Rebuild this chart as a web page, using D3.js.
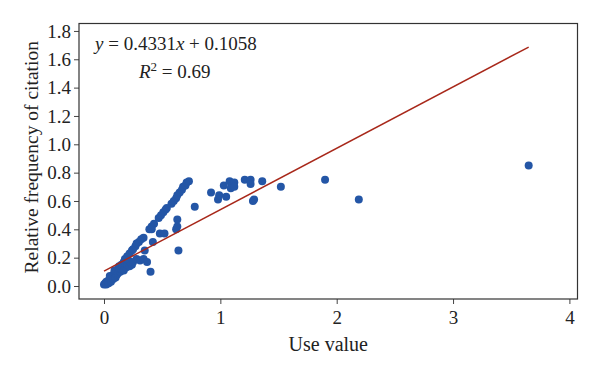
<!DOCTYPE html>
<html>
<head>
<meta charset="utf-8">
<script src="https://cdn.jsdelivr.net/npm/d3@7"></script>
<style>
  body { margin: 0; background: #fff; }
  text { font-family: "Liberation Serif", "DejaVu Serif", serif; fill: #222; }
</style>
</head>
<body>
<div id="chart"></div>
<script>
// Use value (x) and relative frequency of citation (y)
const useValue = [
  0.00, 0.01, 0.02, 0.03, 0.04, 0.05, 0.06, 0.07, 0.08, 0.09, 0.10, 0.12, 0.13, 0.15, 0.17,
  0.18, 0.20, 0.22, 0.24, 0.25, 0.27, 0.28, 0.30, 0.32, 0.34, 0.39, 0.41, 0.43, 0.47, 0.49,
  0.51, 0.53, 0.54, 0.58, 0.60, 0.62, 0.63, 0.65, 0.67, 0.68, 0.70, 0.71, 0.73,
  0.02, 0.04, 0.06, 0.05, 0.08, 0.10, 0.11, 0.09, 0.12, 0.14, 0.13, 0.15, 0.16, 0.17, 0.19,
  0.18, 0.20, 0.21, 0.22, 0.24, 0.25, 0.28, 0.31, 0.34, 0.37, 0.40, 0.35, 0.42, 0.41, 0.48,
  0.52, 0.62, 0.63, 0.63, 0.64, 0.78,
  0.92, 0.98, 0.99, 1.03, 1.05, 1.08, 1.09, 1.10, 1.12, 1.12, 1.21, 1.26, 1.26, 1.28, 1.29,
  1.36, 1.52, 1.90, 2.19, 3.65
];
const citationFreq = [
  0.01, 0.02, 0.03, 0.02, 0.04, 0.05, 0.06, 0.07, 0.08, 0.09, 0.11, 0.12, 0.14, 0.15, 0.17,
  0.19, 0.21, 0.23, 0.25, 0.26, 0.28, 0.30, 0.31, 0.33, 0.34, 0.40, 0.42, 0.44, 0.48, 0.50,
  0.52, 0.54, 0.55, 0.58, 0.60, 0.62, 0.64, 0.66, 0.68, 0.70, 0.71, 0.73, 0.74,
  0.01, 0.02, 0.03, 0.07, 0.05, 0.06, 0.08, 0.11, 0.09, 0.10, 0.12, 0.12, 0.14, 0.11, 0.13,
  0.16, 0.15, 0.18, 0.14, 0.15, 0.17, 0.19, 0.18, 0.19, 0.17, 0.10, 0.25, 0.31, 0.40, 0.37,
  0.37, 0.40, 0.42, 0.47, 0.25, 0.56,
  0.66, 0.61, 0.64, 0.71, 0.63, 0.74, 0.69, 0.71, 0.73, 0.70, 0.75, 0.75, 0.72, 0.60, 0.61,
  0.74, 0.70, 0.75, 0.61, 0.85
];

// fitted trend line
const slope = 0.4331;
const intercept = 0.1058;
const fitRange = [0, 3.65];

const xTicks = [0, 1, 2, 3, 4];
const yTicks = [0, 0.2, 0.4, 0.6, 0.8, 1.0, 1.2, 1.4, 1.6, 1.8];

const margin = { top: 23.5, right: 22.5, bottom: 71, left: 79 };
const width = 600 - margin.left - margin.right;
const height = 370 - margin.top - margin.bottom;

const svg = d3.select("#chart").append("svg")
    .attr("width", 600)
    .attr("height", 370)
  .append("g")
    .attr("transform", `translate(${margin.left},${margin.top})`);

const x = d3.scaleLinear().domain([-0.2148, 4.0696]).range([0, width]);
const y = d3.scaleLinear().domain([-0.0917, 1.8525]).range([height, 0]);

// x axis
const gx = svg.append("g")
    .attr("transform", `translate(0,${height})`)
    .call(d3.axisBottom(x).tickValues(xTicks).tickFormat(d3.format("d")).tickSize(5).tickSizeOuter(0));

// y axis
const gy = svg.append("g")
    .call(d3.axisLeft(y).tickValues(yTicks).tickFormat(d3.format(".1f")).tickSize(5).tickSizeOuter(0));

[gx, gy].forEach(g => {
  g.select(".domain").remove();
  g.selectAll("line").attr("stroke", "#444");
  g.selectAll("text")
      .style("font-family", "'Liberation Serif', serif")
      .style("font-size", "19px")
      .attr("fill", "#222");
});
gx.selectAll("text").attr("dy", "0.95em").attr("y", 7);
gy.selectAll("text").attr("x", -8);

// frame
svg.append("rect")
    .attr("width", width)
    .attr("height", height)
    .attr("fill", "none")
    .attr("stroke", "#333")
    .attr("stroke-width", 1.2);

// points
const points = useValue.map((v, i) => ({ u: v, f: citationFreq[i] }));
svg.selectAll(".dot")
    .data(points)
  .enter().append("circle")
    .attr("class", "dot")
    .attr("r", 4)
    .attr("cx", d => x(d.u))
    .attr("cy", d => y(d.f))
    .attr("fill", "#2456a6");

// regression line
const line = d3.line()
    .x(d => x(d))
    .y(d => y(slope * d + intercept));

svg.append("path")
    .datum(fitRange)
    .attr("d", line)
    .attr("fill", "none")
    .attr("stroke", "#a8281a")
    .attr("stroke-width", 1.4);

// equation
const eq = svg.append("text")
    .attr("x", 16)
    .attr("y", 26)
    .style("font-size", "19px");
eq.append("tspan").style("font-style", "italic").text("y");
eq.append("tspan").text(" = 0.4331");
eq.append("tspan").style("font-style", "italic").text("x");
eq.append("tspan").text(" + 0.1058");

const r2 = svg.append("text")
    .attr("x", 60)
    .attr("y", 54)
    .style("font-size", "19px");
r2.append("tspan").style("font-style", "italic").text("R");
r2.append("tspan").attr("dy", -7).style("font-size", "13px").text("2");
r2.append("tspan").attr("dy", 7).text(" = 0.69");

// axis labels
svg.append("text")
    .attr("x", width / 2)
    .attr("y", height + 52)
    .style("text-anchor", "middle")
    .style("font-size", "20px")
    .text("Use value");

svg.append("text")
    .attr("transform", "rotate(-90)")
    .attr("x", -height / 2 + 4)
    .attr("y", -41)
    .style("text-anchor", "middle")
    .style("font-size", "19.5px")
    .text("Relative frequency of citation");
</script>
</body>
</html>
